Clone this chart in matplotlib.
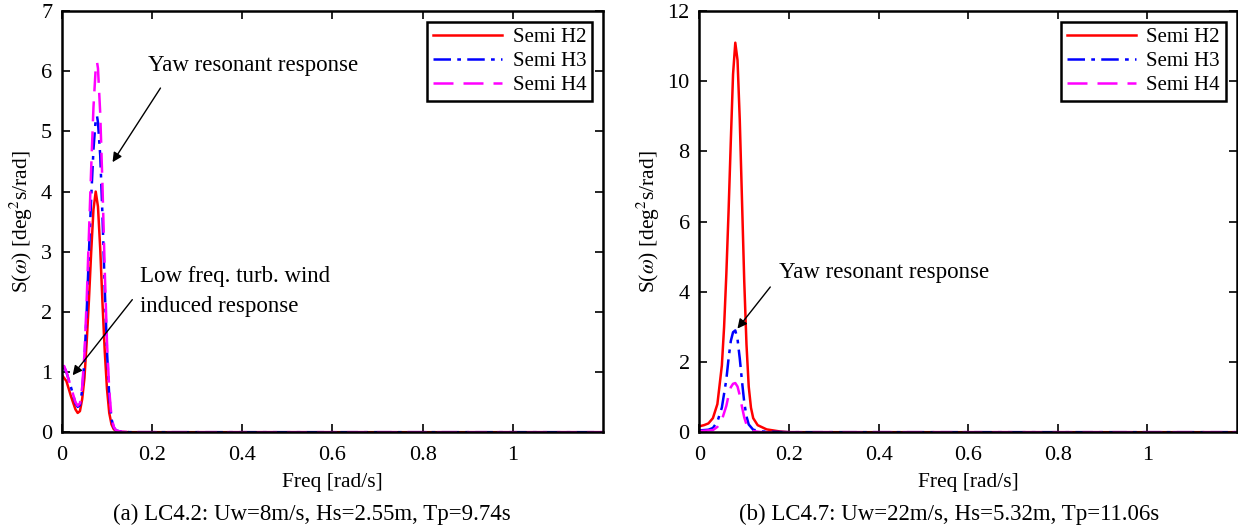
import matplotlib
matplotlib.use("Agg")
import matplotlib.pyplot as plt

plt.rcParams.update({
    "font.family": ["Liberation Serif", "DejaVu Serif"],
    "mathtext.fontset": "stix",
    "font.size": 15,
})

# ---- data (freq in rad/s, S in deg^2 s/rad) ----
freq_a_h2 = [0, 0.01, 0.02, 0.03, 0.035, 0.04, 0.045, 0.05, 0.055, 0.06, 0.065, 0.07,
             0.075, 0.08, 0.085, 0.09, 0.095, 0.1, 0.105, 0.11, 0.115, 0.12, 0.13, 0.15, 1.2]
s_a_h2 = [0.95, 0.85, 0.6, 0.38, 0.32, 0.35, 0.55, 0.9, 1.5, 2.2, 3.0, 3.7,
          4.0, 3.75, 3.05, 2.15, 1.35, 0.72, 0.32, 0.13, 0.05, 0.02, 0.005, 0.0, 0.0]

freq_a_h3 = [0, 0.005, 0.01, 0.02, 0.03, 0.035, 0.04, 0.045, 0.05, 0.055, 0.06, 0.065, 0.07,
             0.075, 0.078, 0.08, 0.085, 0.09, 0.095, 0.1, 0.105, 0.11, 0.115, 0.12, 0.13, 0.15, 1.2]
s_a_h3 = [1.05, 1.08, 1.0, 0.75, 0.48, 0.42, 0.45, 0.7, 1.2, 2.0, 3.0, 3.9, 4.7,
          5.2, 5.25, 5.15, 4.6, 3.6, 2.4, 1.35, 0.6, 0.22, 0.08, 0.03, 0.01, 0.0, 0.0]

freq_a_h4 = [0, 0.005, 0.01, 0.02, 0.03, 0.035, 0.04, 0.045, 0.05, 0.055, 0.06, 0.065, 0.07,
             0.075, 0.078, 0.08, 0.085, 0.09, 0.095, 0.1, 0.105, 0.11, 0.115, 0.12, 0.13, 0.15, 1.2]
s_a_h4 = [1.1, 1.1, 1.0, 0.75, 0.5, 0.44, 0.48, 0.75, 1.3, 2.2, 3.3, 4.4, 5.4,
          6.05, 6.15, 6.05, 5.3, 4.1, 2.7, 1.5, 0.7, 0.25, 0.09, 0.03, 0.01, 0.0, 0.0]

freq_b_h2 = [0, 0.01, 0.02, 0.03, 0.04, 0.05, 0.055, 0.06, 0.065, 0.07, 0.075, 0.08,
             0.085, 0.09, 0.095, 0.1, 0.105, 0.11, 0.115, 0.12, 0.13, 0.15, 0.18, 0.2, 1.2]
s_b_h2 = [0.17, 0.2, 0.25, 0.4, 0.8, 1.9, 3.0, 4.5, 6.3, 8.3, 10.2, 11.1,
          10.6, 8.9, 6.6, 4.3, 2.5, 1.3, 0.7, 0.4, 0.2, 0.08, 0.02, 0.0, 0.0]

freq_b_h3 = [0, 0.02, 0.03, 0.04, 0.05, 0.06, 0.065, 0.07, 0.075, 0.08, 0.085, 0.09,
             0.095, 0.1, 0.105, 0.11, 0.12, 0.14, 0.2, 1.2]
s_b_h3 = [0.05, 0.07, 0.12, 0.3, 0.7, 1.5, 2.1, 2.6, 2.85, 2.9, 2.65, 2.1,
          1.45, 0.85, 0.45, 0.22, 0.07, 0.02, 0.0, 0.0]

freq_b_h4 = [0, 0.03, 0.04, 0.05, 0.06, 0.065, 0.07, 0.075, 0.08, 0.085, 0.09,
             0.095, 0.1, 0.105, 0.11, 0.12, 0.14, 1.2]
s_b_h4 = [0.03, 0.06, 0.15, 0.35, 0.75, 1.05, 1.28, 1.38, 1.4, 1.3, 1.05,
          0.72, 0.42, 0.22, 0.1, 0.03, 0.0, 0.0]

labels = ["Semi H2", "Semi H3", "Semi H4"]
captions = ["(a) LC4.2: Uw=8m/s, Hs=2.55m, Tp=9.74s",
            "(b) LC4.7: Uw=22m/s, Hs=5.32m, Tp=11.06s"]

styles = [dict(color="#ff0000", ls="-"),
          dict(color="#0000ff", ls=(0, (7, 2.5, 1.5, 2.5))),
          dict(color="#ff00ff", ls=(0, (8, 4)))]


def style_axes(ax, ymax, ystep):
    ax.set_xlim(0, 1.2)
    ax.set_ylim(0, ymax)
    ax.set_xticks([0, 0.2, 0.4, 0.6, 0.8, 1.0])
    ax.set_xticklabels(["0", "0.2", "0.4", "0.6", "0.8", "1"])
    ax.set_yticks(range(0, ymax + 1, ystep))
    ax.tick_params(direction="in", top=True, right=True, length=6, width=1.2,
                   labelsize=16, pad=7)
    ax.tick_params(axis="x", pad=10)
    for sp in ax.spines.values():
        sp.set_linewidth(1.8)
    ax.set_xlabel("Freq [rad/s]", fontsize=15.5, labelpad=6)
    ax.set_ylabel(r"S($\omega$) [deg$^2$s/rad]", fontsize=15.5, labelpad=4)
    leg = ax.legend(loc="upper right", fancybox=False, framealpha=1,
                    edgecolor="black", fontsize=15, handlelength=3.3,
                    borderaxespad=0.5, labelspacing=0.2, borderpad=0.3,
                    handletextpad=0.5)
    leg.get_frame().set_linewidth(1.8)


fig = plt.figure(figsize=(12.38, 5.29), dpi=100)
ax1 = fig.add_axes([0.050, 0.183, 0.437, 0.796])
ax2 = fig.add_axes([0.565, 0.183, 0.434, 0.796])

panel_a = [(freq_a_h2, s_a_h2), (freq_a_h3, s_a_h3), (freq_a_h4, s_a_h4)]
panel_b = [(freq_b_h2, s_b_h2), (freq_b_h3, s_b_h3), (freq_b_h4, s_b_h4)]

for (f, s), lab, st in zip(panel_a, labels, styles):
    ax1.plot(f, s, lw=1.8, label=lab, **st)
for (f, s), lab, st in zip(panel_b, labels, styles):
    ax2.plot(f, s, lw=1.8, label=lab, **st)

style_axes(ax1, 7, 1)
style_axes(ax2, 12, 2)

arrow = dict(arrowstyle="-|>", color="black", lw=1.0, mutation_scale=14)
ax1.text(0.19, 6.1, "Yaw resonant response", fontsize=16.5, va="center")
ax1.annotate("", xy=(0.109, 4.45), xytext=(0.222, 5.76), arrowprops=arrow)
ax1.text(0.173, 2.59, "Low freq. turb. wind", fontsize=16.5, va="center")
ax1.text(0.173, 2.09, "induced response", fontsize=16.5, va="center")
ax1.annotate("", xy=(0.02, 0.91), xytext=(0.16, 2.24), arrowprops=arrow)

ax2.text(0.177, 4.54, "Yaw resonant response", fontsize=16.5, va="center")
ax2.annotate("", xy=(0.081, 2.89), xytext=(0.162, 4.2), arrowprops=arrow)

fig.text(0.252, 0.028, captions[0], ha="center", va="center", fontsize=16.5)
fig.text(0.767, 0.028, captions[1], ha="center", va="center", fontsize=16.5)

fig.savefig("out.png", dpi=100, facecolor="white")
